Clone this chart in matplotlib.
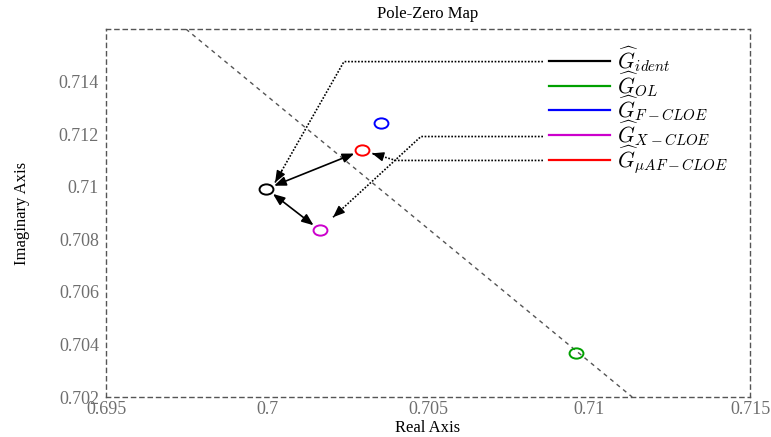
import matplotlib
matplotlib.use("Agg")
import matplotlib.pyplot as plt
import numpy as np
from matplotlib.path import Path
from matplotlib.lines import Line2D
from matplotlib.transforms import Affine2D

plt.rcParams["mathtext.fontset"] = "cm"

# Pole locations (real, imaginary) for each identified model
labels = [r"$\widehat{G}_{ident}$", r"$\widehat{G}_{OL}$", r"$\widehat{G}_{F-CLOE}$",
          r"$\widehat{G}_{X-CLOE}$", r"$\widehat{G}_{\mu AF-CLOE}$"]
colors = ["black", "#00a000", "blue", "#cc00cc", "red"]
pole_re = [0.69998, 0.70960, 0.70354, 0.70165, 0.70295]
pole_im = [0.70992, 0.70368, 0.71244, 0.70834, 0.71138]

# Constant-frequency grid line across the view
grid_re = [0.69748, 0.71134]
grid_im = [0.71600, 0.70200]

x_ticks = [0.695, 0.7, 0.705, 0.71, 0.715]
x_ticklabels = ["0.695", "0.7", "0.705", "0.71", "0.715"]
y_ticks = [0.702, 0.704, 0.706, 0.708, 0.71, 0.712, 0.714]
y_ticklabels = ["0.702", "0.704", "0.706", "0.708", "0.71", "0.712", "0.714"]

serif = "Liberation Serif"

fig = plt.figure(figsize=(7.71, 4.37), dpi=100)
ax = fig.add_axes([0.1375, 0.0915, 0.8353, 0.8421])
ax.set_xlim(0.695, 0.715)
ax.set_ylim(0.702, 0.716)

for s in ax.spines.values():
    s.set_linestyle((0, (3, 3)))
    s.set_color("#555555")
    s.set_linewidth(1.0)

ax.plot(grid_re, grid_im, color="#555555", lw=1.0, ls=(0, (3, 3)), zorder=1)

# Slightly flattened circle marker
ell = Path.unit_circle().transformed(Affine2D().scale(1.35, 1.0))
for xr, yi, c in zip(pole_re, pole_im, colors):
    ax.plot([xr], [yi], marker=ell, ms=10, mfc="none", mec=c, mew=1.4,
            ls="none", zorder=5)

ax.set_xticks(x_ticks)
ax.set_xticklabels(x_ticklabels)
ax.set_yticks(y_ticks)
ax.set_yticklabels(y_ticklabels)
ax.tick_params(length=0, labelcolor="#6e6e6e", labelsize=13)
ax.tick_params(axis="x", pad=3)
ax.tick_params(axis="y", pad=5)
for t in ax.get_xticklabels() + ax.get_yticklabels():
    t.set_fontfamily(serif)

ax.set_title("Pole-Zero Map", fontfamily=serif, fontsize=12, pad=8)
ax.set_xlabel("Real Axis", fontfamily=serif, fontsize=12, labelpad=1)
ax.set_ylabel("Imaginary Axis", fontfamily=serif, fontsize=12, labelpad=21)

handles = [Line2D([], [], color=c, lw=1.6) for c in colors]
leg = ax.legend(handles, labels, loc="upper left", bbox_to_anchor=(0.688, 0.958),
                frameon=False, fontsize=15.5, handlelength=2.85, handletextpad=0.3,
                labelspacing=-0.21, borderpad=0, borderaxespad=0)

# Pointer paths from legend entries to the corresponding poles
def ptr(path_x, path_y):
    ax.plot(path_x, path_y, color="black", lw=1.2, ls=(0, (1, 1)), zorder=4)
    # arrowhead on the last segment
    x0, y0 = path_x[-2], path_y[-2]
    x1, y1 = path_x[-1], path_y[-1]
    f = 0.9
    ax.annotate("", xy=(x1, y1), xytext=(x0 + f * (x1 - x0), y0 + f * (y1 - y0)),
                arrowprops=dict(arrowstyle="-|>,head_length=0.7,head_width=0.28",
                                color="black", lw=1.0, shrinkA=0, shrinkB=0), zorder=4)

ptr([0.70857, 0.70239, 0.70025], [0.71476, 0.71476, 0.71016])
ptr([0.70857, 0.70478, 0.70205], [0.71191, 0.71191, 0.70884])
ptr([0.70857, 0.70400, 0.70326], [0.71100, 0.71100, 0.71127])

# Solid two-headed links between poles
def link(a, b):
    ax.annotate("", xy=b, xytext=a,
                arrowprops=dict(arrowstyle="<|-|>,head_length=0.7,head_width=0.28",
                                color="black", lw=1.2, shrinkA=6, shrinkB=6), zorder=4)

link((pole_re[0], pole_im[0]), (pole_re[4], pole_im[4]))
link((pole_re[0], pole_im[0]), (pole_re[3], pole_im[3]))

fig.savefig("out.png", dpi=100)
